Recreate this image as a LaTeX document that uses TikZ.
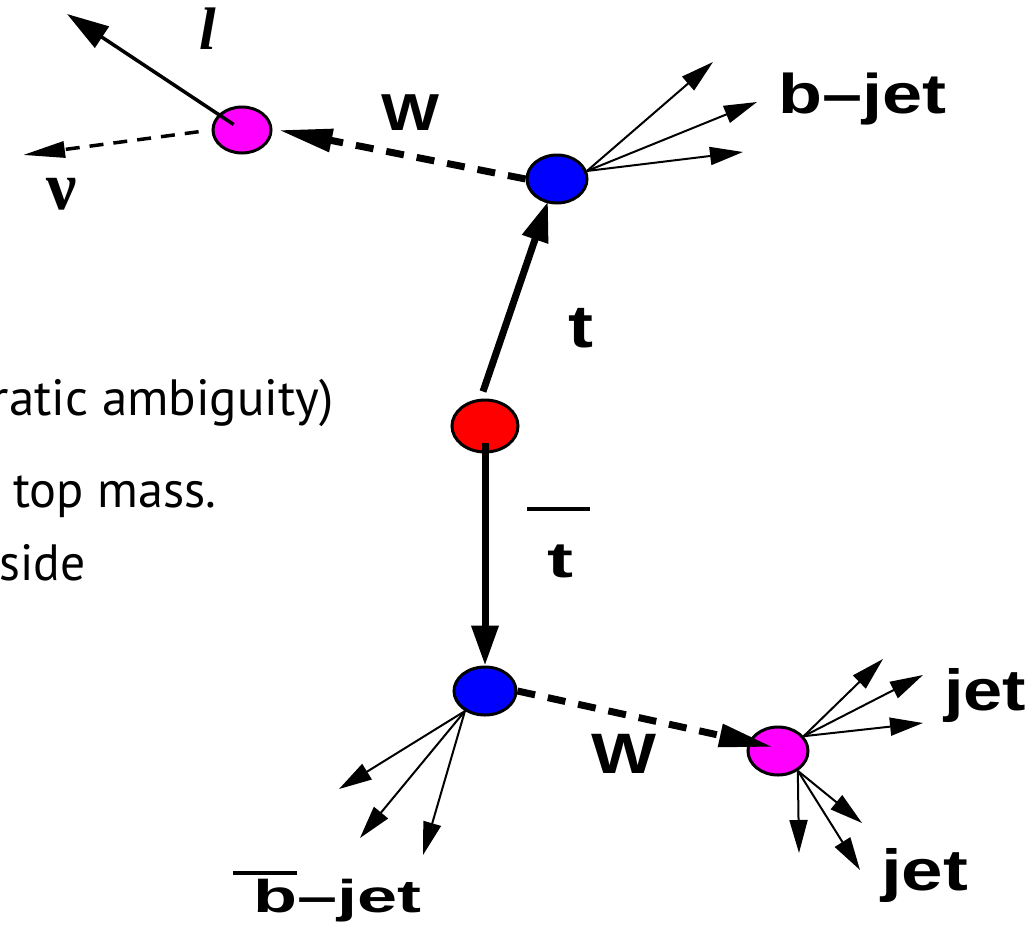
\documentclass[tikz,border=0pt]{standalone}
\usepackage{fontspec}
\usepackage{graphicx}
\setmainfont{Liberation Sans}
\newfontfamily\txtfont{PT Sans}
\newfontfamily\serfont{Liberation Serif}
\usetikzlibrary{arrows.meta,shapes.geometric,calc}
\definecolor{vmag}{RGB}{255,0,255}
\definecolor{vblue}{RGB}{0,0,255}
\definecolor{vred}{RGB}{255,0,0}
\tikzset{
  blob/.style={ellipse, draw=black, line width=3pt, inner sep=0pt},
  bigarrow/.style={line width=7pt, -{Triangle[length=40pt,width=26pt]}},
  wdash/.style={line width=7pt, dash pattern=on 18pt off 13pt, -{Triangle[length=54pt,width=22pt]}},
  jetarrow/.style={line width=2pt, -{Triangle[length=33pt,width=18pt]}},
  leparrow/.style={line width=3.5pt, -{Triangle[length=42pt,width=25pt]}},
  nuarrow/.style={line width=3.5pt, dash pattern=on 14pt off 10pt, -{Triangle[length=42pt,width=16pt]}},
  lab/.style={inner sep=0pt, font=\bfseries\fontsize{56}{60}\selectfont},
  txt/.style={inner sep=0pt, font=\txtfont\fontsize{51}{56}\selectfont},
  bar/.style={line width=3.5pt}
}
\begin{document}
\begin{tikzpicture}[x=1pt,y=-1pt]
\useasboundingbox (0,0) rectangle (1031,932);
\clip (0,0) rectangle (1031,932);

% vertices
\node[blob, fill=vmag, minimum width=58pt, minimum height=46pt] (lep) at (242,130) {};
\node[blob, fill=vblue, minimum width=60pt, minimum height=48pt] (btop) at (557,179) {};
\node[blob, fill=vred, minimum width=66pt, minimum height=52pt] (red) at (485,426) {};
\node[blob, fill=vblue, minimum width=62pt, minimum height=48pt] (bbot) at (485,691) {};
\node[blob, fill=vmag, minimum width=60pt, minimum height=48pt] (mag2) at (778,751) {};

% free ends
\coordinate (lt) at (67,14);
\coordinate (nt) at (23,155);
\coordinate (j1) at (713,62);
\coordinate (j2) at (757,102);
\coordinate (j3) at (743,152);
\coordinate (k1) at (339,789);
\coordinate (k2) at (360,838);
\coordinate (k3) at (423,855);
\coordinate (m1) at (883,659);
\coordinate (m2) at (923,675);
\coordinate (m3) at (923,723);
\coordinate (n1) at (799,853);
\coordinate (n2) at (862,823);
\coordinate (n3) at (860,870);

% lepton side
\draw[leparrow, shorten <=10pt] (lep.center) -- (lt);
\draw[nuarrow, shorten <=13pt] (lep.west) -- (nt);
\draw[wdash] (btop.west) -- ($(lep.east)+(6,0)$);

% top and antitop
\draw[bigarrow] ($(red.north)+(-2,-7)$) -- ($(btop.south)+(-9,-3)$);
\draw[bigarrow] ($(red.center)+(0,17)$) -- (bbot.north);

% hadronic W
\draw[wdash] (bbot.east) -- ($(mag2.center)+(-5,-4)$);

% jets
\foreach \e in {j1,j2,j3} \draw[jetarrow] (btop.15) -- (\e);
\foreach \e in {k1,k2,k3} \draw[jetarrow] (bbot.225) -- (\e);
\foreach \e in {m1,m2,m3} \draw[jetarrow] (mag2.30) -- (\e);
\foreach \e in {n1,n2,n3} \draw[jetarrow] (mag2.-45) -- (\e);

% labels
\node[inner sep=0pt, font=\serfont\bfseries\itshape\fontsize{60}{64}\selectfont] (llab) at (208,29) {l};
\node[inner sep=0pt, font=\serfont\bfseries\fontsize{68}{72}\selectfont] (nulab) at (62,194) {ν};
\node[lab, anchor=base west] (bjt) at (778,113) {\resizebox{168pt}{\height}{b–jet}};
\node[lab, font=\bfseries\fontsize{52}{56}\selectfont, anchor=base west] (wt) at (381,130) {\resizebox{58pt}{\height}{W}};
\node[lab, font=\bfseries\fontsize{60}{64}\selectfont, anchor=base west] (tt) at (568,347) {\resizebox{25pt}{\height}{t}};
\node[lab, font=\bfseries\fontsize{50}{54}\selectfont, anchor=base west] (tb) at (547,577) {\resizebox{26pt}{\height}{t}};
\draw[bar] (527,509) -- (590,509);
\node[lab, font=\bfseries\fontsize{57}{60}\selectfont, anchor=base west] (wb) at (591,773) {\resizebox{65pt}{\height}{W}};
\node[lab, font=\bfseries\fontsize{58}{62}\selectfont, anchor=base west] (jr) at (944,710) {\resizebox{82pt}{\height}{jet}};
\node[lab, font=\bfseries\fontsize{58}{62}\selectfont, anchor=base west] (jl) at (881,890) {\resizebox{87pt}{\height}{jet}};
\node[lab, font=\bfseries\fontsize{46}{50}\selectfont, anchor=base west] (bjb) at (253,912) {\resizebox{168pt}{\height}{b–jet}};
\draw[line width=4pt] (233,873) -- (297,873);

% cut-off text at left
\node[txt, anchor=base east] (tx1) at (334,415) {\resizebox{342pt}{\height}{ratic ambiguity)}};
\node[txt, anchor=base west] (tx2) at (13,507) {\resizebox{203pt}{\height}{top mass.}};
\node[txt, anchor=base west] (tx3) at (-1,580) {\resizebox{86pt}{\height}{side}};
\end{tikzpicture}
\end{document}
